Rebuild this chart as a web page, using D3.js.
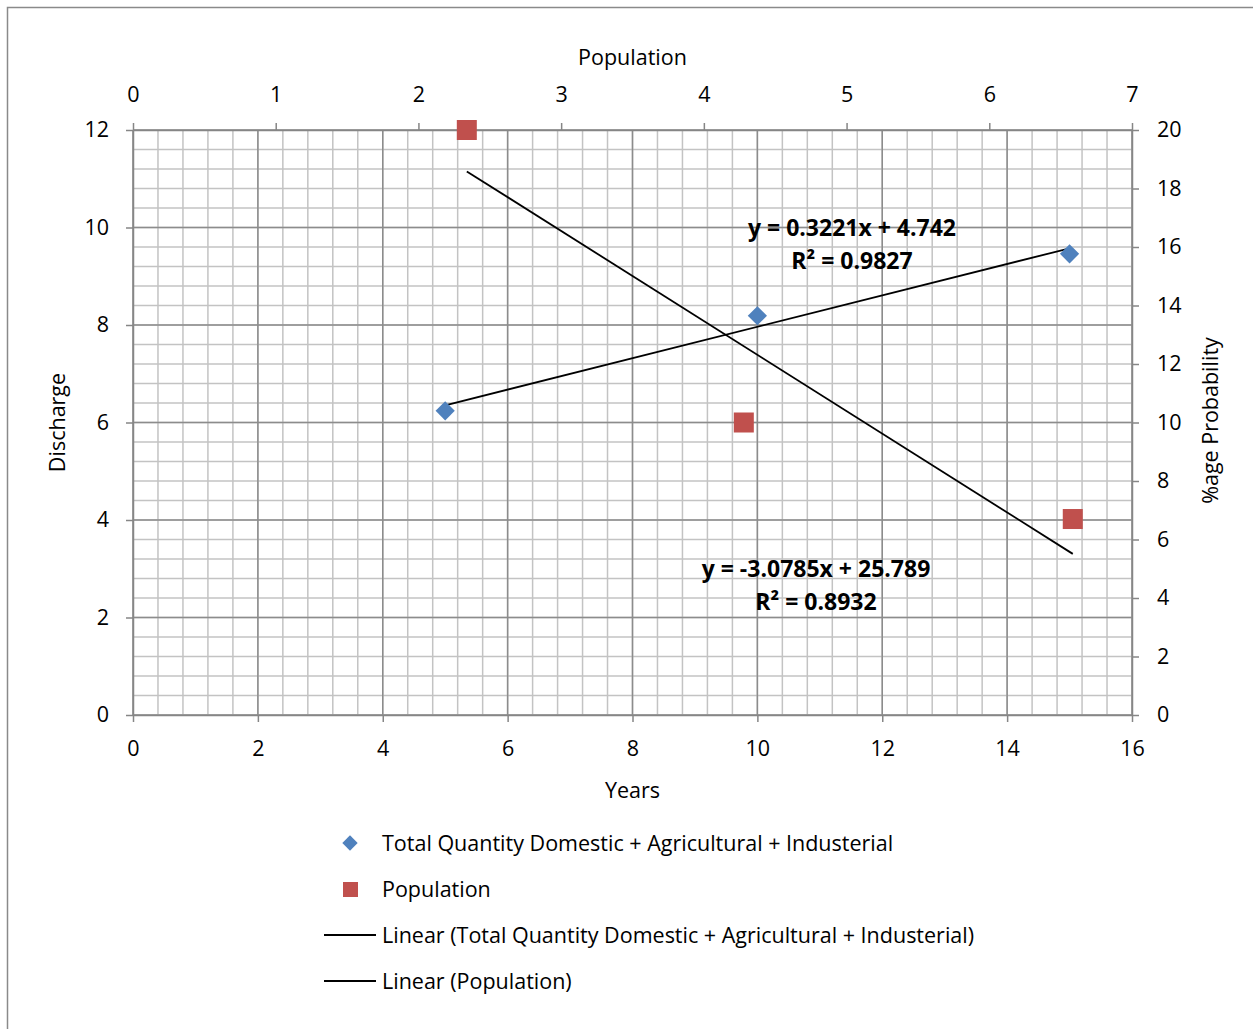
<!DOCTYPE html>
<html><head><meta charset="utf-8">
<script src="https://cdn.jsdelivr.net/npm/d3@7"></script>
<style>
html,body{margin:0;padding:0;background:#fff;}
text{font-family:"Open Sans","Noto Sans",sans-serif;fill:#000;}
</style></head>
<body>
<svg id="chart" width="1253" height="1029"></svg>
<script>
// ---- data ----
const yearsTotal = [5, 10, 15];
const dischargeTotal = [6.24, 8.19, 9.46];
const populationX = [2.339, 4.28, 6.585];
const probabilityY = [20, 10, 6.7];
const yearTicks = [0, 2, 4, 6, 8, 10, 12, 14, 16];
const dischargeTicks = [0, 2, 4, 6, 8, 10, 12];
const populationTicks = [0, 1, 2, 3, 4, 5, 6, 7];
const probabilityTicks = [0, 2, 4, 6, 8, 10, 12, 14, 16, 18, 20];
const seriesNames = ["Total Quantity Domestic + Agricultural + Industerial", "Population"];
const eqTotal = ["y = 0.3221x + 4.742", "R² = 0.9827"];
const eqPop = ["y = -3.0785x + 25.789", "R² = 0.8932"];

const svg = d3.select("#chart");
const L = 133, R = 1132, T = 130, B = 715;
const FS = "21.5px";
const x = d3.scaleLinear([0, 16], [L, R]);
const y = d3.scaleLinear([0, 12], [B, T]);
const x2 = d3.scaleLinear([0, 7], [L, R]);
const y2 = d3.scaleLinear([0, 20], [B, T]);

// outer frame
svg.append("rect").attr("x", 7.5).attr("y", 7.5).attr("width", 1300).attr("height", 1100)
  .attr("fill", "none").attr("stroke", "#8a8a8a").attr("stroke-width", 1.5);

// gridlines
const g = svg.append("g");
const minorX = d3.range(0, 16.0001, 0.4);
const minorY = d3.range(0, 12.0001, 0.4);
g.selectAll(".mx").data(minorX).join("line")
  .attr("x1", d => x(d)).attr("x2", d => x(d)).attr("y1", T).attr("y2", B)
  .attr("stroke", "#c3c3c3").attr("stroke-width", 1.5);
g.selectAll(".my").data(minorY).join("line")
  .attr("y1", d => y(d)).attr("y2", d => y(d)).attr("x1", L).attr("x2", R)
  .attr("stroke", "#c3c3c3").attr("stroke-width", 1.5);
g.selectAll(".Mx").data(yearTicks).join("line")
  .attr("x1", d => x(d)).attr("x2", d => x(d)).attr("y1", T).attr("y2", B)
  .attr("stroke", "#8c8c8c").attr("stroke-width", 1.5);
g.selectAll(".My").data(dischargeTicks).join("line")
  .attr("y1", d => y(d)).attr("y2", d => y(d)).attr("x1", L).attr("x2", R)
  .attr("stroke", "#8c8c8c").attr("stroke-width", 1.5);

// axes
function styleAxis(sel) {
  sel.attr("font-family", null).attr("font-size", null);
  sel.select(".domain").attr("stroke", "#868686").attr("stroke-width", 1.5);
  sel.selectAll(".tick line").attr("stroke", "#868686").attr("stroke-width", 1.5);
  sel.selectAll(".tick text").style("font-size", FS).attr("fill", "#000");
}
svg.append("g").attr("transform", `translate(0,${B})`)
  .call(d3.axisBottom(x).tickValues(yearTicks).tickSize(7).tickSizeOuter(0).tickPadding(19).tickFormat(d3.format("d")))
  .call(styleAxis);
svg.append("g").attr("transform", `translate(${L},0)`)
  .call(d3.axisLeft(y).tickValues(dischargeTicks).tickSize(7).tickSizeOuter(0).tickPadding(17).tickFormat(d3.format("d")))
  .call(styleAxis);
svg.append("g").attr("transform", `translate(0,${T})`)
  .call(d3.axisTop(x2).tickValues(populationTicks).tickSize(7).tickSizeOuter(0).tickPadding(21).tickFormat(d3.format("d")))
  .call(styleAxis);
svg.append("g").attr("transform", `translate(${R},0)`)
  .call(d3.axisRight(y2).tickValues(probabilityTicks).tickSize(7).tickSizeOuter(0).tickPadding(18).tickFormat(d3.format("d")))
  .call(styleAxis);

// axis titles
svg.append("text").attr("x", (L + R) / 2).attr("y", 798).attr("text-anchor", "middle").style("font-size", FS).text("Years");
svg.append("text").attr("x", (L + R) / 2).attr("y", 65).attr("text-anchor", "middle").style("font-size", FS).text("Population");
svg.append("text").attr("transform", `translate(65,${(T + B) / 2}) rotate(-90)`).attr("text-anchor", "middle").style("font-size", FS).text("Discharge");
svg.append("text").attr("transform", `translate(1218,${(T + B) / 2 - 2}) rotate(-90)`).attr("text-anchor", "middle").style("font-size", FS).text("%age Probability");

// regression helpers
function fit(xs, ys) {
  const n = xs.length, mx = d3.mean(xs), my = d3.mean(ys);
  let sxy = 0, sxx = 0;
  for (let i = 0; i < n; i++) { sxy += (xs[i] - mx) * (ys[i] - my); sxx += (xs[i] - mx) ** 2; }
  const m = sxy / sxx; return { m, b: my - m * mx };
}
const f1 = fit(yearsTotal, dischargeTotal);
const f2 = fit(populationX, probabilityY);
const line = d3.line();
const e1 = d3.extent(yearsTotal), e2 = d3.extent(populationX);
svg.append("path").attr("d", line(e1.map(v => [x(v), y(f1.m * v + f1.b)])))
  .attr("stroke", "#000").attr("stroke-width", 1.8).attr("fill", "none");
svg.append("path").attr("d", line(e2.map(v => [x2(v), y2(f2.m * v + f2.b)])))
  .attr("stroke", "#000").attr("stroke-width", 1.8).attr("fill", "none");

// markers
const diamond = d3.symbol().type(d3.symbolDiamond2).size(235);
svg.selectAll(".dia").data(yearsTotal).join("path")
  .attr("d", diamond)
  .attr("transform", (d, i) => `translate(${x(d)},${y(dischargeTotal[i])})`)
  .attr("fill", "#4F81BD");
svg.selectAll(".sq").data(populationX).join("rect")
  .attr("x", d => x2(d) - 10).attr("y", (d, i) => y2(probabilityY[i]) - 10)
  .attr("width", 20).attr("height", 20).attr("fill", "#C0504D");

// equations
function eq(lines, cx, cy) {
  const t = svg.append("text").attr("text-anchor", "middle").style("font-size", "23px").style("font-weight", "bold");
  lines.forEach((s, i) => t.append("tspan").attr("x", cx).attr("y", cy + i * 33).text(s));
}
eq(eqTotal, 852, 236);
eq(eqPop, 816, 577);

// legend
const lg = svg.append("g");
const ly = [843, 889, 935, 981];
lg.append("path").attr("d", d3.symbol().type(d3.symbolDiamond2).size(150))
  .attr("transform", `translate(350,${ly[0]})`).attr("fill", "#4F81BD");
lg.append("rect").attr("x", 343).attr("y", ly[1] - 7).attr("width", 15).attr("height", 15).attr("fill", "#C0504D");
[2, 3].forEach(i => lg.append("line").attr("x1", 324).attr("x2", 376).attr("y1", ly[i]).attr("y2", ly[i]).attr("stroke", "#000").attr("stroke-width", 1.8));
const legendLabels = [seriesNames[0], seriesNames[1], `Linear (${seriesNames[0]})`, `Linear (${seriesNames[1]})`];
legendLabels.forEach((s, i) => lg.append("text").attr("x", 382).attr("y", ly[i]).attr("dy", "0.35em").style("font-size", FS).text(s));
</script>
</body></html>
